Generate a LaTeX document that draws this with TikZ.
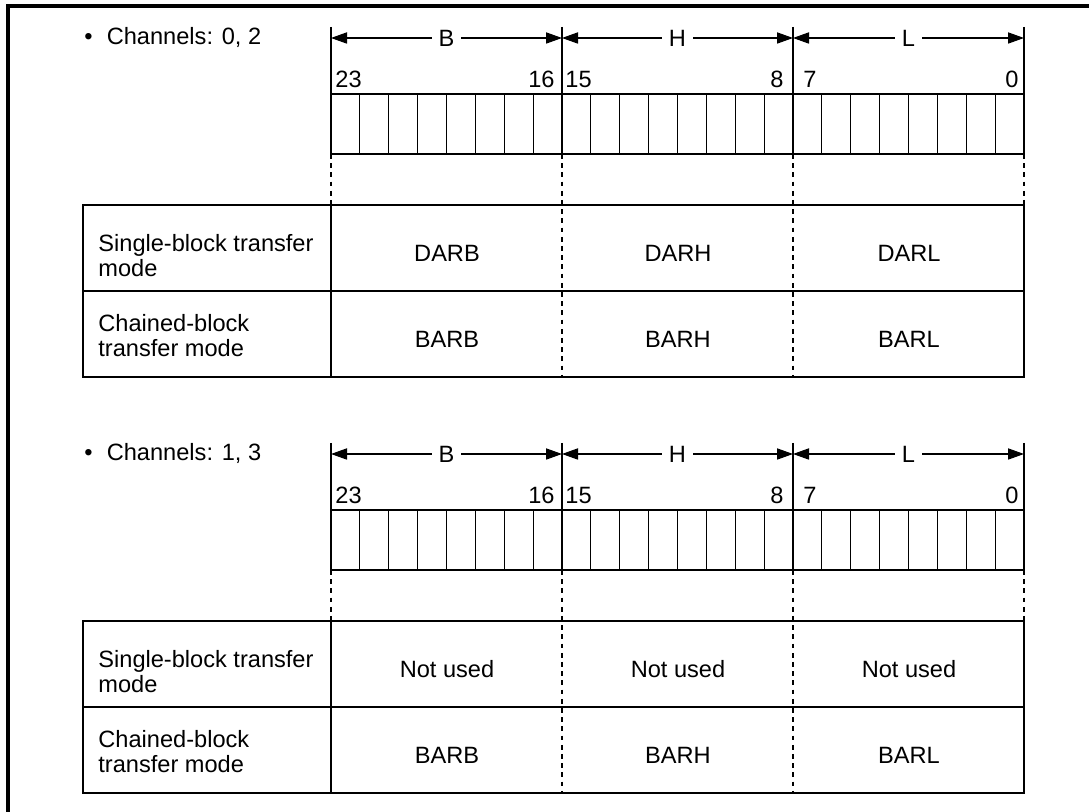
\documentclass[tikz,border=0pt]{standalone}
\usepackage{fontspec}
\setmainfont{Liberation Sans}
\usetikzlibrary{arrows.meta}
\tikzset{
  ln/.style={line width=0.55pt},
  dim/.style={ln, {Triangle[length=8pt,width=5.6pt]}-{Triangle[length=8pt,width=5.6pt]}},
  dashv/.style={line width=0.55pt, dash pattern=on 2.4pt off 2.2pt},
  txt/.style={font=\fontsize{11.8}{12.5}\selectfont, inner sep=0pt},
  lettr/.style={txt, fill=white, inner xsep=3.5pt},
  rowlbl/.style={txt, align=left, anchor=base west},
  cellt/.style={txt, anchor=base},
  numl/.style={txt, anchor=base west},
  numr/.style={txt, anchor=base east},
}
\newcommand\regsec[6]{%
\begin{scope}[shift={(0,#2)}]
  \node[txt, anchor=base west] (#1-ch) at (84,45) {\textbullet\hspace{0.6em}#3};
  % boundaries
  \foreach \x/\n in {331/0,562/1,793/2,1024/3}{
    \coordinate (#1-a\n) at (\x,38);
    \coordinate (#1-t\n) at (\x,27);
    \coordinate (#1-r\n) at (\x,94);
    \draw[ln] (#1-t\n) -- (#1-r\n);
  }
  \draw[dim] (#1-a0) -- node[lettr] (#1-B) {B} (#1-a1);
  \draw[dim] (#1-a1) -- node[lettr] (#1-H) {H} (#1-a2);
  \draw[dim] (#1-a2) -- node[lettr] (#1-L) {L} (#1-a3);
  % bit numbers
  \node[numl] (#1-n23) at (335,88) {23};
  \node[numr] (#1-n16) at (555,88) {16};
  \node[numl] (#1-n15) at (565,88) {15};
  \node[numr] (#1-n8) at (784,88) {8};
  \node[numl] (#1-n7) at (803,88) {7};
  \node[numr] (#1-n0) at (1019,88) {0};
  % register
  \draw[ln] (331,94) rectangle (1024,154);
  \foreach \i in {1,...,23}{\draw[ln] (331+\i*28.875,94) -- ++(0,60);}
  % dashed guides
  \foreach \x in {331,1024}{\draw[dashv] (\x,154) -- (\x,205);}
  \foreach \x in {562,793}{\draw[dashv] (\x,154) -- (\x,377);}
  % table
  \draw[ln] (83,205) rectangle (1024,377);
  \draw[ln] (83,291) -- (1024,291);
  \draw[ln] (331,205) -- (331,377);
  \node[rowlbl] (#1-s) at (98,277) {Single-block transfer\\mode};
  \node[rowlbl] (#1-c) at (98,357) {Chained-block\\transfer mode};
  \node[cellt] (#1-s1) at (447,262) {#4};
  \node[cellt] (#1-s2) at (678,262) {#5};
  \node[cellt] (#1-s3) at (909,262) {#6};
  \node[cellt] (#1-c1) at (447,348) {BARB};
  \node[cellt] (#1-c2) at (678,348) {BARH};
  \node[cellt] (#1-c3) at (909,348) {BARL};
\end{scope}}
\begin{document}
\begin{tikzpicture}[x=0.5pt,y=-0.5pt]
  \clip (0,0) rectangle (1089,812);
  \fill[white] (0,0) rectangle (1089,812);
  \draw[line width=1.6pt] (8,830) -- (8,6) -- (1100,6);
  \regsec{a}{0}{Channels: 0, 2}{DARB}{DARH}{DARL}
  \regsec{b}{416}{Channels: 1, 3}{Not used}{Not used}{Not used}
\end{tikzpicture}
\end{document}
